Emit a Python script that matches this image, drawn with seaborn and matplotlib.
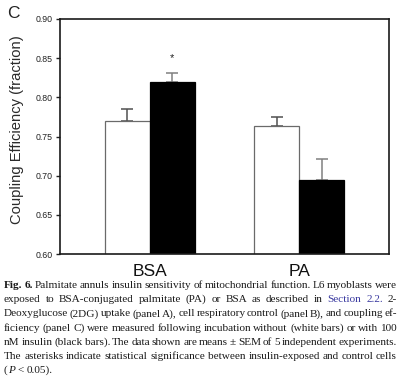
import matplotlib
matplotlib.use("Agg")
import matplotlib.pyplot as plt
import seaborn as sns
import pandas as pd

# ---- data ----
groups = ["BSA", "BSA", "PA", "PA"]
conditions = ["Control", "Insulin", "Control", "Insulin"]
means = [0.770, 0.819, 0.764, 0.694]
sems = [0.015, 0.012, 0.011, 0.027]
significant = [False, True, False, False]
yticks = [0.60, 0.65, 0.70, 0.75, 0.80, 0.85, 0.90]
ylabel = "Coupling Efficiency (fraction)"
panel_letter = "C"

caption_lines = [
    [[("Fig.", "bold")], [("6.", "bold")], "Palmitate", "annuls", "insulin", "sensitivity", "of",
     "mitochondrial", "function.", "L6", "myoblasts", "were"],
    ["exposed", "to", "BSA-conjugated", "palmitate", "(PA)", "or", "BSA", "as", "described", "in",
     [("Section", "link")], [("2.2.", "link")], "2-"],
    "Deoxyglucose (2DG) uptake (panel A), cell respiratory control (panel B), and coupling ef-".split(" "),
    "ficiency (panel C) were measured following incubation without (white bars) or with 100".split(" "),
    "nM insulin (black bars). The data shown are means \u00b1 SEM of 5 independent experiments.".split(" "),
    "The asterisks indicate statistical significance between insulin-exposed and control cells".split(" "),
    [[("(", "normal"), ("P", "italic")], "<", "0.05)."],
]

df = pd.DataFrame({"group": groups, "condition": conditions, "mean": means, "sem": sems})

sns.set_theme(style="white")
plt.rcParams["font.family"] = ["Liberation Sans", "DejaVu Sans"]

W, H = 400, 385
fig = plt.figure(figsize=(W / 100, H / 100), dpi=100)
ax = fig.add_axes([60 / W, 1 - 254 / H, 329 / W, 235 / H])

sns.barplot(data=df, x="group", y="mean", hue="condition",
            palette={"Control": "white", "Insulin": "black"},
            width=0.6, errorbar=None, legend=False, ax=ax, zorder=2)

bars = sorted([p for p in ax.patches if p.get_height() > 0], key=lambda p: p.get_x())
order = sorted(range(len(df)), key=lambda i: (["BSA", "PA"].index(groups[i]),
                                              ["Control", "Insulin"].index(conditions[i])))
for p, i in zip(bars, order):
    cx = p.get_x() + p.get_width() / 2
    if conditions[i] == "Control":
        p.set_edgecolor("#6a6a6a")
        ecol = "#505050"
    else:
        p.set_edgecolor("black")
        ecol = "#808080"
    p.set_linewidth(0.9)
    ax.errorbar(cx, means[i], yerr=[[0], [sems[i]]], fmt="none", ecolor=ecol,
                elinewidth=1.1, capsize=4.6, capthick=1.1, zorder=1)
    if significant[i]:
        ax.text(cx, means[i] + sems[i] + 0.019, "*", ha="center", va="center",
                fontsize=8, color="#222222")

ax.set_ylim(0.60, 0.90)
ax.set_xlim(-0.6, 1.6)
ax.set_yticks(yticks)
ax.set_yticklabels([f"{t:.2f}" for t in yticks], fontsize=6.3, color="#222222")
ax.set_xlabel("")
ax.set_ylabel(ylabel, fontsize=10.6, color="#2a2a2a")
ax.yaxis.set_label_coords(-0.11, 0.53)
ax.tick_params(axis="y", left=True, direction="out", length=3.2, width=1, color="#222222", pad=2)
ax.tick_params(axis="x", bottom=False, labelsize=12.5, pad=1, labelcolor="#111111")
for sp in ax.spines.values():
    sp.set_visible(True)
    sp.set_color("#1a1a1a")
    sp.set_linewidth(1.2)
ax.grid(False)

fig.text(13 / W, 1 - 14 / H, panel_letter, ha="center", va="center", fontsize=12.5, color="#222222")

# ---- justified caption ----
fig.canvas.draw()
renderer = fig.canvas.get_renderer()
serif = ["Liberation Serif", "DejaVu Serif"]
styles = {
    "normal": dict(family=serif, color="#1a1a1a"),
    "bold": dict(family=serif, color="#1a1a1a", weight="bold"),
    "italic": dict(family=serif, color="#1a1a1a", style="italic"),
    "link": dict(family=serif, color="#3a3aa0"),
}

def norm_token(tok):
    if isinstance(tok, str):
        return [(tok, "normal")]
    return tok

def width_of(s, st, fs):
    t = fig.text(0, 0, s, fontsize=fs, **styles[st])
    w = t.get_window_extent(renderer).width
    t.remove()
    return w

left, right = 4.0, 397.0
fs0 = 10.0
space0 = width_of("a a", "normal", fs0) - width_of("aa", "normal", fs0)
nat = []
for line in caption_lines:
    toks = [norm_token(t) for t in line]
    wsum = sum(width_of(s, st, fs0) for tok in toks for s, st in tok)
    nat.append(wsum + space0 * 0.55 * (len(toks) - 1))
fs = fs0 * (right - left) / max(nat)

y0, dy = 288.0, 14.2
for li, line in enumerate(caption_lines):
    toks = [norm_token(t) for t in line]
    widths = [[width_of(s, st, fs) for s, st in tok] for tok in toks]
    tw = [sum(w) for w in widths]
    if li < len(caption_lines) - 1 and len(toks) > 1:
        gap = ((right - left) - sum(tw)) / (len(toks) - 1)
    else:
        gap = space0 * fs / fs0
    x = left
    yb = 1 - (y0 + li * dy) / H
    for tok, ws in zip(toks, widths):
        for (s, st), w in zip(tok, ws):
            fig.text(x / W, yb, s, fontsize=fs, ha="left", va="baseline", **styles[st])
            x += w
        x += gap

fig.savefig("out.png", dpi=100)
